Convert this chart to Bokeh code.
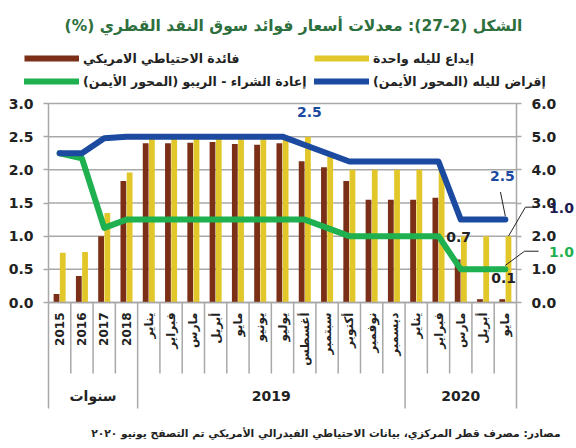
import numpy as np
from bokeh.plotting import figure
from bokeh.models import (Range1d, LinearAxis, FixedTicker, PrintfTickFormatter,
                          Legend, LegendItem, Label, Arrow, ColumnDataSource)
from bokeh.transform import dodge
from bokeh.embed import file_html
from bokeh.resources import INLINE

# ---------------- data ----------------
categories = ["2015", "2016", "2017", "2018",
              "يناير", "فبراير", "مارس", "أبريل", "مايو", "يونيو",
              "يوليو", "أغسطس", "سبتمبر", "أكتوبر", "نوفمبر", "ديسمبر",
              "يناير", "فبراير", "مارس", "أبريل", "مايو"]
groups = ["سنوات", "2019", "2020"]
group_sizes = [4, 12, 5]

fed_rate = [0.13, 0.40, 1.00, 1.83, 2.40, 2.40, 2.41, 2.42, 2.39, 2.38, 2.40,
            2.13, 2.04, 1.83, 1.55, 1.55, 1.55, 1.58, 0.65, 0.05, 0.05]
overnight_deposit = [0.75, 0.76, 1.35, 1.96, 2.5, 2.5, 2.5, 2.5, 2.5, 2.5, 2.5,
                     2.5, 2.2, 2.0, 2.0, 2.0, 2.0, 2.0, 1.0, 1.0, 1.0]
overnight_lending = [4.5, 4.5, 4.95, 5.0, 5.0, 5.0, 5.0, 5.0, 5.0, 5.0, 5.0,
                     4.75, 4.5, 4.25, 4.25, 4.25, 4.25, 4.25, 2.5, 2.5, 2.5]
repo_rate = [4.5, 4.35, 2.25, 2.5, 2.5, 2.5, 2.5, 2.5, 2.5, 2.5, 2.5,
             2.5, 2.25, 2.0, 2.0, 2.0, 2.0, 2.0, 1.0, 1.0, 1.0]

left_ticks = [0, 0.5, 1.0, 1.5, 2.0, 2.5, 3.0]
right_ticks = [0, 1, 2, 3, 4, 5, 6]

title_text = "الشكل (2-27): معدلات أسعار فوائد سوق النقد القطري (%)"
legend_labels = ["فائدة الاحتياطي الامريكي", "إيداع لليله واحدة",
                 "إعادة الشراء - الريبو (المحور الأيمن)", "إقراض لليله (المحور الأيمن)"]
source_text = "مصادر: مصرف قطر المركزي، بيانات الاحتياطي الفيدرالي الأمريكي تم التصفح يونيو ٢٠٢٠"

# ---------------- style / layout ----------------
BROWN = "#7a2f16"
YELLOW = "#e2c72b"
BLUE = "#1c4aa0"
GREEN = "#1fb04f"
GRID = "#a8a8a8"
TITLE_GREEN = "#2e6f3e"
TXT = "#222222"
NAVY = "#1b1b4f"
FONT = "DejaVu Sans"

W, H = 576, 448
PLOT_L, PLOT_R, PLOT_T, PLOT_B = 48, 516, 103, 302   # pixel box of the chart area

n = len(categories)
YMAX = left_ticks[-1]
PX = (PLOT_R - PLOT_L) / n
PY = (PLOT_B - PLOT_T) / YMAX
x0r = -0.5 - PLOT_L / PX
x1r = n - 0.5 + (W - PLOT_R) / PX
y0r = -(H - PLOT_B) / PY
y1r = YMAX + PLOT_T / PY
RR = right_ticks[-1] / YMAX


def rtl(s):
    return "\u202b" + s + "\u202c"


idx = list(range(n))
src = ColumnDataSource(dict(x=idx, fed=fed_rate, dep=overnight_deposit,
                            lend=overnight_lending, repo=repo_rate))

p = figure(width=W, height=H, x_range=Range1d(x0r, x1r), y_range=Range1d(y0r, y1r),
           output_backend="svg", toolbar_location=None,
           min_border_left=0, min_border_right=0, min_border_top=0, min_border_bottom=0)
p.extra_y_ranges = {"right": Range1d(y0r * RR, y1r * RR)}
p.outline_line_color = None
p.background_fill_color = "white"
p.border_fill_color = "white"
p.grid.visible = False

# horizontal grid lines limited to the chart area
p.segment(x0=[-0.5] * len(left_ticks), x1=[n - 0.5] * len(left_ticks),
          y0=left_ticks, y1=left_ticks, line_color=GRID, line_width=1.5)


def style_y(a):
    a.major_tick_out = 5
    a.major_tick_in = 0
    a.minor_tick_line_color = None
    a.major_tick_line_color = GRID
    a.major_tick_line_width = 1.5
    a.axis_line_color = GRID
    a.axis_line_width = 1.5
    a.major_label_standoff = 10
    a.major_label_text_font = FONT
    a.major_label_text_font_style = "bold"
    a.major_label_text_font_size = "14px"
    a.major_label_text_color = TXT


ya = p.yaxis[0]
ya.ticker = FixedTicker(ticks=left_ticks)
ya.formatter = PrintfTickFormatter(format="%.1f")
ya.fixed_location = -0.5
ya.bounds = (0, YMAX)
style_y(ya)

ra = LinearAxis(y_range_name="right", ticker=FixedTicker(ticks=right_ticks),
                formatter=PrintfTickFormatter(format="%.1f"),
                fixed_location=n - 0.5, bounds=(0, right_ticks[-1]))
style_y(ra)
p.add_layout(ra, "right")

# x axis (categories)
xa = p.xaxis[0]
xa.ticker = FixedTicker(ticks=idx)
xa.major_label_overrides = {i: c for i, c in enumerate(categories)}
xa.major_label_orientation = np.pi / 2
xa.fixed_location = 0
xa.bounds = (-0.5, n - 0.5)
xa.major_tick_out = 0
xa.major_tick_in = 0
xa.major_tick_line_color = None
xa.minor_tick_line_color = None
xa.axis_line_color = GRID
xa.axis_line_width = 1.5
xa.major_label_standoff = 10
xa.major_label_text_font = FONT
xa.major_label_text_font_style = "bold"
xa.major_label_text_font_size = "12px"
xa.major_label_text_color = TXT

# category separators below the axis
starts = np.cumsum([0] + group_sizes[:-1])
group_bounds = [float(s) - 0.5 for s in starts] + [n - 0.5]
group_centers = [float(s + (k - 1) / 2) for s, k in zip(starts, group_sizes)]
SEP_SHORT = -(373 - PLOT_B) / PY
SEP_LONG = -(408 - PLOT_B) / PY
bx = [i - 0.5 for i in range(n + 1)]
by = [SEP_LONG if b in group_bounds else SEP_SHORT for b in bx]
p.segment(x0=bx, y0=[0] * len(bx), x1=bx, y1=by, line_color=GRID, line_width=1.5)

GROUP_Y = -(395 - PLOT_B) / PY
for c, g in zip(group_centers, groups):
    p.add_layout(Label(x=c, y=GROUP_Y, text=g, text_align="center", text_baseline="middle",
                       text_font=FONT, text_font_style="bold", text_font_size="14px",
                       text_color=TXT))

# bars
p.vbar(x=dodge("x", -0.14), top="fed", width=0.26, source=src,
       fill_color=BROWN, line_color=None)
p.vbar(x=dodge("x", 0.14), top="dep", width=0.26, source=src,
       fill_color=YELLOW, line_color=None)
# lines (right axis)
p.line("x", "repo", source=src, y_range_name="right", line_color=GREEN,
       line_width=6, line_join="round", line_cap="round")
p.line("x", "lend", source=src, y_range_name="right", line_color=BLUE,
       line_width=6, line_join="round", line_cap="round")

# legend proxies (hidden renderers carrying the same series)
lg_b = p.line("x", "fed", source=src, line_color=BROWN, line_width=6, line_cap="butt", visible=False)
lg_y = p.line("x", "dep", source=src, line_color=YELLOW, line_width=6, line_cap="butt", visible=False)
lg_g = p.line("x", "repo", source=src, y_range_name="right", line_color=GREEN, line_width=6,
              line_cap="round", visible=False)
lg_bl = p.line("x", "lend", source=src, y_range_name="right", line_color=BLUE, line_width=6,
               line_cap="round", visible=False)
legend = Legend(items=[LegendItem(label=rtl(legend_labels[0]), renderers=[lg_b]),
                       LegendItem(label=rtl(legend_labels[1]), renderers=[lg_y]),
                       LegendItem(label=rtl(legend_labels[2]), renderers=[lg_g]),
                       LegendItem(label=rtl(legend_labels[3]), renderers=[lg_bl])],
                location=(24, H - 91), orientation="horizontal", ncols=2)
legend.border_line_color = None
legend.background_fill_alpha = 0
legend.padding = 0
legend.margin = 0
legend.spacing = 3
legend.glyph_width = 55
legend.glyph_height = 20
legend.label_standoff = 4
legend.label_width = 228
legend.label_height = 20
legend.label_text_font = FONT
legend.label_text_font_style = "bold"
legend.label_text_font_size = "12.5px"
legend.label_text_color = TXT
p.add_layout(legend)

# title and source
p.add_layout(Label(x=(293 - PLOT_L) / PX - 0.5, y=(PLOT_B - 25) / PY, text=rtl(title_text),
                   text_align="center", text_baseline="middle", text_font=FONT,
                   text_font_style="bold", text_font_size="15.5px", text_color=TITLE_GREEN))
p.add_layout(Label(x=(560 - PLOT_L) / PX - 0.5, y=-(433 - PLOT_B) / PY, text=rtl(source_text),
                   text_align="right", text_baseline="middle", text_font=FONT,
                   text_font_style="bold", text_font_size="10.7px", text_color=TXT))


def ann(x, y, text, color, rng="default"):
    p.add_layout(Label(x=x, y=y, y_range_name=rng, text=text, text_align="center",
                       text_baseline="middle", text_font=FONT, text_font_style="bold",
                       text_font_size="14px", text_color=color))


def leader(xa_, ya_, xb, yb, rng="default"):
    p.add_layout(Arrow(end=None, x_start=xa_, y_start=ya_, x_end=xb, y_end=yb,
                       y_range_name=rng, line_color=TXT, line_width=1))


last = n - 1
ann(11.21, 5.74, f"{overnight_deposit[11]:.1f}", BLUE, "right")
ann(19.87, 3.81, f"{overnight_lending[last]:.1f}", BLUE, "right")
leader(19.78, 3.33, last, overnight_lending[last] + 0.1, "right")
ann(17.9, 0.98, f"{fed_rate[18]:.1f}", TXT)
ann(19.92, 0.366, "0.1", TXT)
ann(22.52, 1.42, f"{overnight_deposit[last]:.1f}", NAVY)
leader(last + 0.14, overnight_deposit[last], 20.9, 1.437)
leader(20.9, 1.437, 21.49, 1.437)
ann(22.52, 0.758, f"{repo_rate[last]:.1f}", GREEN)
leader(last, repo_rate[last] / 2 + 0.06, 20.86, 0.773)
leader(20.86, 0.773, 21.49, 0.773)

open("out.html", "w").write(file_html(p, INLINE))
